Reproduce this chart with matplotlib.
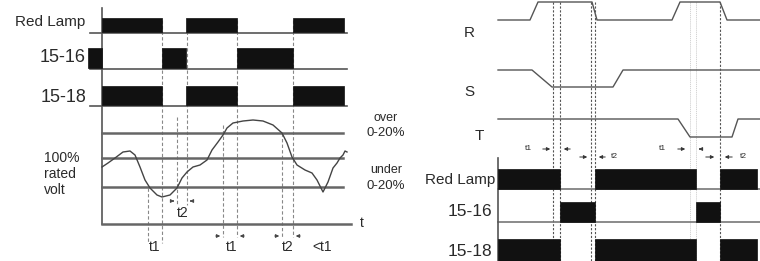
import matplotlib
matplotlib.use('Agg')
import matplotlib.pyplot as plt

plt.rcParams['font.family'] = ['Liberation Sans', 'DejaVu Sans']

# ---- left panel: contacts vs. time (x = time) ----
left_lamp_on = [(102, 162), (186, 237), (293, 344)]
left_1516_on = [(88, 102), (162, 186), (237, 293)]
left_1518_on = [(102, 162), (186, 237), (293, 344)]

# supply voltage trace (time, level; smaller level = higher voltage on screen)
volt_t = [102, 108, 115, 123, 130, 135, 140, 145, 150, 157, 162, 170, 177, 182, 187,
          193, 200, 207, 212, 218, 223, 227, 233, 243, 253, 263, 273, 282, 287, 292,
          297, 305, 312, 317, 323, 328, 333, 337, 340, 343, 345, 347]
volt_v = [167, 163, 158, 152, 151, 155, 167, 180, 188, 195, 197, 195, 188, 178, 172,
          167, 165, 160, 150, 142, 135, 128, 123, 121, 120, 121, 125, 133, 143, 157,
          165, 170, 173, 180, 192, 182, 168, 163, 158, 155, 151, 152]
over_level = 133
rated_level = 158
under_level = 187

# dashed markers on the left (time, top, bottom)
left_marks = [(148, 188, 243), (162, 20, 243), (177, 117, 205), (187, 20, 205),
              (223, 125, 237), (237, 20, 237), (282, 133, 237), (293, 20, 237)]

# ---- right panel: phases R, S, T ----
r_t = [498, 530, 538, 592, 597, 672, 680, 720, 727, 760]
r_v = [20, 20, 2, 2, 20, 20, 2, 2, 20, 20]
s_t = [498, 532, 552, 613, 623, 760]
s_v = [70, 70, 87, 87, 70, 70]
t_t = [498, 678, 690, 732, 738, 760]
t_v = [119, 119, 137, 137, 119, 119]

right_lamp_on = [(498, 560), (595, 696), (720, 757)]
right_1516_on = [(560, 595), (696, 720)]
right_1518_on = [(498, 560), (595, 696), (720, 757)]
right_marks = [553, 560, 591, 595, 720]
right_faint = [690, 696]

fig = plt.figure(figsize=(7.6, 2.61), dpi=100)
ax = fig.add_axes([0, 0, 1, 1])
ax.set_xlim(0, 760)
ax.set_ylim(261, 0)
ax.axis('off')

ink = '#111111'
line = '#555555'
txt = '#2a2a2a'


def bars(spans, top, bottom):
    ax.broken_barh([(a, b - a) for a, b in spans], (top, bottom - top),
                   facecolor=ink, edgecolor=ink, lw=0.5, zorder=3)


# left timing rows
for spans, top, base in [(left_lamp_on, 18, 32), (left_1516_on, 48, 68), (left_1518_on, 86, 105)]:
    bars(spans, top, base)
    ax.plot([90, 347], [base + 0.5, base + 0.5], color=line, lw=1.2, zorder=2)
ax.plot([102, 102], [8, 224], color=line, lw=1.2)

# left voltage plot
for lvl in [over_level, rated_level, under_level]:
    ax.plot([102, 343], [lvl, lvl], color='#666666', lw=1.8)
ax.plot([102, 351], [224, 224], color='#666666', lw=1.8)
ax.plot(volt_t, volt_v, color='#444444', lw=1.0, zorder=4)

for x, y0, y1 in left_marks:
    ax.plot([x, x], [y0, y1], color='#888888', lw=0.8, ls=(0, (3, 2)), zorder=1)

arrow = dict(arrowstyle='-|>', color='#444444', lw=0.7, mutation_scale=5)
for x0, x1, y in [(170, 177, 201), (194, 187, 201), (213, 223, 236), (247, 237, 236),
                  (272, 282, 236), (303, 293, 236)]:
    ax.annotate('', xy=(x1, y), xytext=(x0, y), arrowprops=arrow)

ax.text(85, 22, 'Red Lamp', ha='right', va='center', fontsize=11, color=txt)
ax.text(86, 58, '15-16', ha='right', va='center', fontsize=13, color=txt)
ax.text(86, 97, '15-18', ha='right', va='center', fontsize=13, color=txt)
ax.text(44, 174, '100%\nrated\nvolt', ha='left', va='center', fontsize=10,
        color=txt, linespacing=1.2)
ax.text(386, 118, 'over', ha='center', va='center', fontsize=9, color=txt)
ax.text(386, 133, '0-20%', ha='center', va='center', fontsize=9.5, color=txt)
ax.text(386, 170, 'under', ha='center', va='center', fontsize=9, color=txt)
ax.text(386, 186, '0-20%', ha='center', va='center', fontsize=9.5, color=txt)
ax.text(362, 223, 't', ha='center', va='center', fontsize=10, color=txt)
ax.text(183, 213, 't2', ha='center', va='center', fontsize=10, color=txt)
ax.text(155, 247, 't1', ha='center', va='center', fontsize=10, color=txt)
ax.text(232, 247, 't1', ha='center', va='center', fontsize=10, color=txt)
ax.text(288, 247, 't2', ha='center', va='center', fontsize=10, color=txt)
ax.text(322, 247, '<t1', ha='center', va='center', fontsize=10, color=txt)

# right panel phases
for tt, vv in [(r_t, r_v), (s_t, s_v), (t_t, t_v)]:
    ax.plot(tt, vv, color='#555555', lw=1.0)
ax.text(469, 33, 'R', ha='center', va='center', fontsize=11, color=txt)
ax.text(469, 92, 'S', ha='center', va='center', fontsize=11, color=txt)
ax.text(479, 136, 'T', ha='center', va='center', fontsize=11, color=txt)

for x in right_marks:
    ax.plot([x, x], [2, 261], color='#555555', lw=0.8, ls=(0, (2, 1.5)), zorder=1)
for x in right_faint:
    ax.plot([x, x], [2, 261], color='#cccccc', lw=0.6, ls=(0, (1.5, 1)), zorder=1)

for spans, top, base in [(right_lamp_on, 169, 189), (right_1516_on, 202, 222), (right_1518_on, 239, 262)]:
    bars(spans, top, base)
    ax.plot([498, 760], [base, base], color='#777777', lw=1.2, zorder=2)
ax.plot([498, 498], [158, 261], color=line, lw=1.2)

small = dict(arrowstyle='-|>', color='#333333', lw=0.7, mutation_scale=5)
for x0, x1, y in [(540, 553, 149), (573, 561, 149), (577, 590, 157), (608, 596, 157),
                  (675, 688, 149), (703, 696, 149), (703, 717, 157), (735, 722, 157)]:
    ax.annotate('', xy=(x1, y), xytext=(x0, y), arrowprops=small)
for x, y, s in [(528, 149, 't1'), (614, 157, 't2'), (662, 149, 't1'), (743, 157, 't2')]:
    ax.text(x, y, s, ha='center', va='center', fontsize=6, color=txt)

ax.text(495, 180, 'Red Lamp', ha='right', va='center', fontsize=11, color=txt)
ax.text(492, 211, '15-16', ha='right', va='center', fontsize=12.5, color=txt)
ax.text(492, 251, '15-18', ha='right', va='center', fontsize=12.5, color=txt)

fig.savefig('out.png', dpi=100)
